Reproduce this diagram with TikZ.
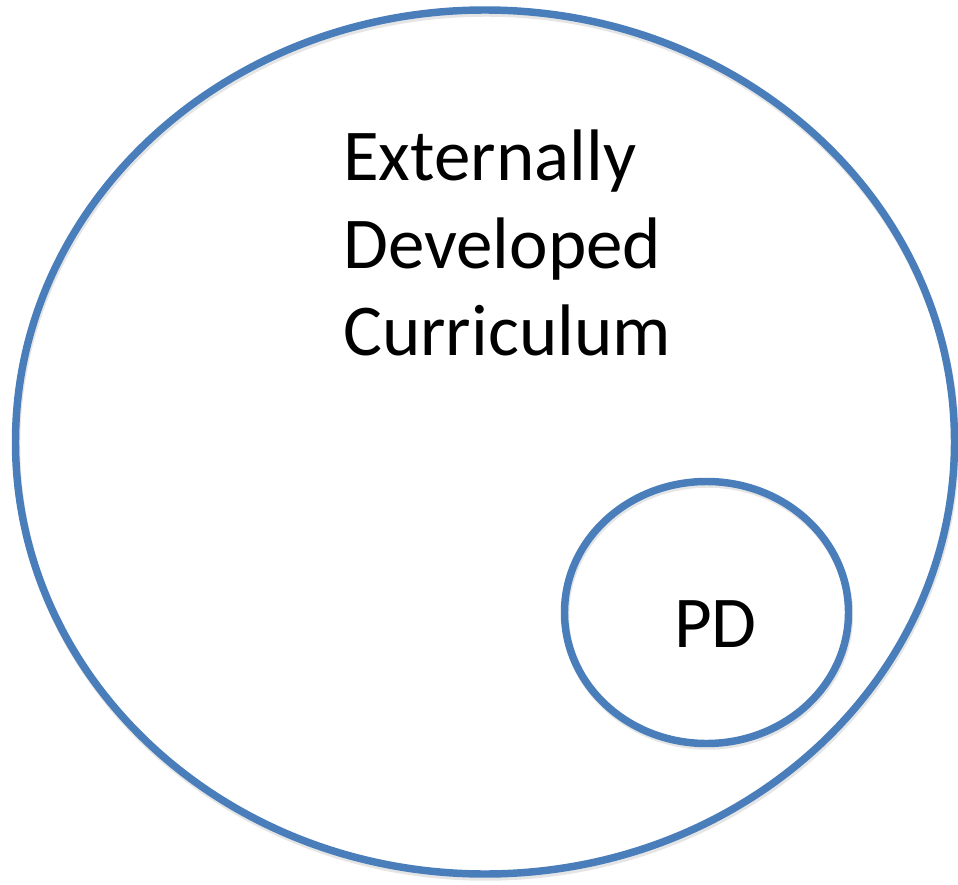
\documentclass[tikz,border=0pt]{standalone}
\usepackage{fontspec}
\setmainfont{Carlito}
\definecolor{ringblue}{HTML}{4A7EBB}
\begin{document}
\begin{tikzpicture}[x=0.75pt,y=-0.75pt,
  ring/.style={draw=ringblue,line width=5.6pt},
  ringshadow/.style={draw=black,opacity=0.10,line width=5.6pt},
  label/.style={inner sep=0pt,font=\fontsize{54.75pt}{65pt}\selectfont}]
  \useasboundingbox (0,0) rectangle (958,885);
  % soft drop shadows
  \draw[ringshadow] (486,445) ellipse [x radius=469.5, y radius=432];
  \draw[ringshadow] (707.5,615) ellipse [x radius=142, y radius=131];
  % outer curriculum ring and inner PD ring
  \draw[ring] (485,442) ellipse [x radius=469.5, y radius=432];
  \draw[ring] (706.5,612.5) ellipse [x radius=142, y radius=131];
  % labels
  \node[label,anchor=base west] (ext) at (343,180.7) {Externally};
  \node[label,anchor=base west] (dev) at (343,268) {Developed};
  \node[label,anchor=base west] (cur) at (343,355) {Curriculum};
  \node[label,anchor=base] (pd) at (715.5,647) {PD};
\end{tikzpicture}
\end{document}
